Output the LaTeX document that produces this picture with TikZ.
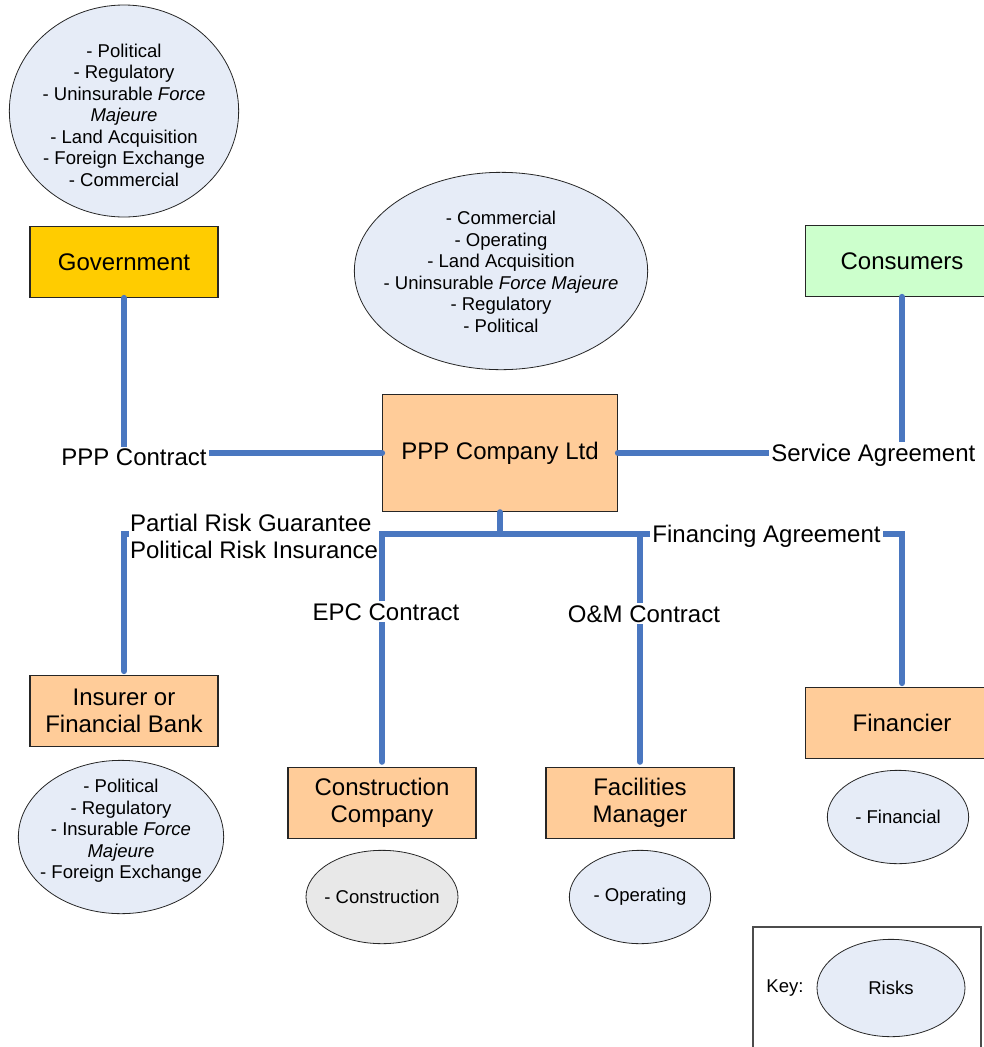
\documentclass[tikz,border=0pt]{standalone}
\usepackage{fontspec}
\setmainfont{Liberation Sans}
\usetikzlibrary{shapes.geometric}

\definecolor{govgold}{HTML}{FFCC00}
\definecolor{consgreen}{HTML}{CCFFCC}
\definecolor{partypeach}{HTML}{FFCC99}
\definecolor{riskblue}{HTML}{E6ECF7}
\definecolor{riskgray}{HTML}{E8E8E8}
\definecolor{linkblue}{HTML}{4A77C0}

\begin{document}
\begin{tikzpicture}[x=0.75pt,y=-0.75pt,
		party/.style={draw=black!85,line width=0.8pt,fill=partypeach,
			minimum width=141pt,minimum height=53pt,align=center,
			font=\fontsize{18}{20}\selectfont},
		risk/.style={ellipse,draw=black!85,line width=0.6pt,fill=riskblue,inner sep=0pt},
		risktext/.style={align=center,font=\fontsize{13.9}{16.1}\selectfont},
		link/.style={draw=linkblue,line width=4.5pt,line cap=round},
		lbl/.style={fill=white,inner sep=1.5pt,font=\fontsize{18}{20}\selectfont}]
		\useasboundingbox (0,0) rectangle (984,1047);
		% parties
		\node[party,fill=govgold] (gov) at (124,262) {Government};
		\node[party,fill=consgreen,minimum width=145pt] (cons) at (902,261) {Consumers};
		\node[party,minimum width=176pt,minimum height=88pt] (ppp) at (500,453) {PPP Company Ltd};
		\node[party] (ins) at (124,711) {Insurer or\\Financial Bank};
		\node[party] (con) at (382,803) {Construction\\Company};
		\node[party] (fac) at (640,803) {Facilities\\Manager};
		\node[party,minimum width=145pt] (fin) at (902,723) {Financier};
		% risks
		\node[risk,minimum width=172pt,minimum height=159pt] (govrisk) at (124,111) {};
		\node[risktext] (govrisktext) at (124,115) {- Political\\- Regulatory\\- Uninsurable \textit{Force}\\\textit{Majeure}\\- Land Acquisition\\- Foreign Exchange\\- Commercial};
		\node[risk,minimum width=220pt,minimum height=148pt] (ppprisk) at (501,271) {};
		\node[risktext] (ppprisktext) at (501,272) {- Commercial\\- Operating\\- Land Acquisition\\- Uninsurable \textit{Force Majeure}\\- Regulatory\\- Political};
		\node[risk,minimum width=154pt,minimum height=115pt] (insrisk) at (121,837) {};
		\node[risktext] (insrisktext) at (121,831) {- Political\\- Regulatory\\- Insurable \textit{Force}\\\textit{Majeure}\\- Foreign Exchange};
		\node[risk,fill=riskgray,minimum width=114pt,minimum height=70pt] (conrisk) at (382,897) {};
		\node[risktext] (conrisktext) at (conrisk) {- Construction};
		\node[risk,minimum width=106pt,minimum height=70pt] (facrisk) at (640,897) {};
		\node[risktext] (facrisktext) at (facrisk) {- Operating};
		\node[risk,minimum width=106pt,minimum height=70pt] (finrisk) at (898,817) {};
		\node[risktext] (finrisktext) at (finrisk) {- Financial};
		% key
		\draw[black!70,line width=0.8pt] (753,1050) -- (753,927) -- (981,927) -- (981,1050);
		\node[risktext] (keytext) at (785,988) {Key:};
		\node[risk,minimum width=111pt,minimum height=73pt] (keyrisk) at (891,988) {};
		\node[risktext] (keyrisktext) at (keyrisk) {Risks};
		% contracts
		\coordinate (hub) at (500,534);
		\draw[link] (gov) |- node[lbl,pos=0.5,xshift=7.5pt,yshift=-3pt] {PPP Contract} (ppp);
		\draw[link] (cons) |- node[lbl,pos=0.5,xshift=-21.5pt,yshift=-2pt] {Service Agreement} (ppp);
		\draw[link] (ppp) -- (hub);
		\draw[link,shorten >=3pt] (hub) -| node[lbl,pos=0.327,align=left,inner sep=0.5pt,yshift=-2pt] {Partial Risk Guarantee\\Political Risk Insurance} (ins);
		\draw[link,shorten >=4pt] (hub) -| node[lbl,pos=0.667,xshift=3pt] {EPC Contract} (con);
		\draw[link,shorten >=4pt] (hub) -| node[lbl,pos=0.671,xshift=3pt] {O\&M Contract} (fac);
		\draw[link,shorten >=3pt] (hub) -| node[lbl,pos=0.334,xshift=-1.5pt,yshift=-1.5pt] {Financing Agreement} (fin);
	\end{tikzpicture}
\end{document}
